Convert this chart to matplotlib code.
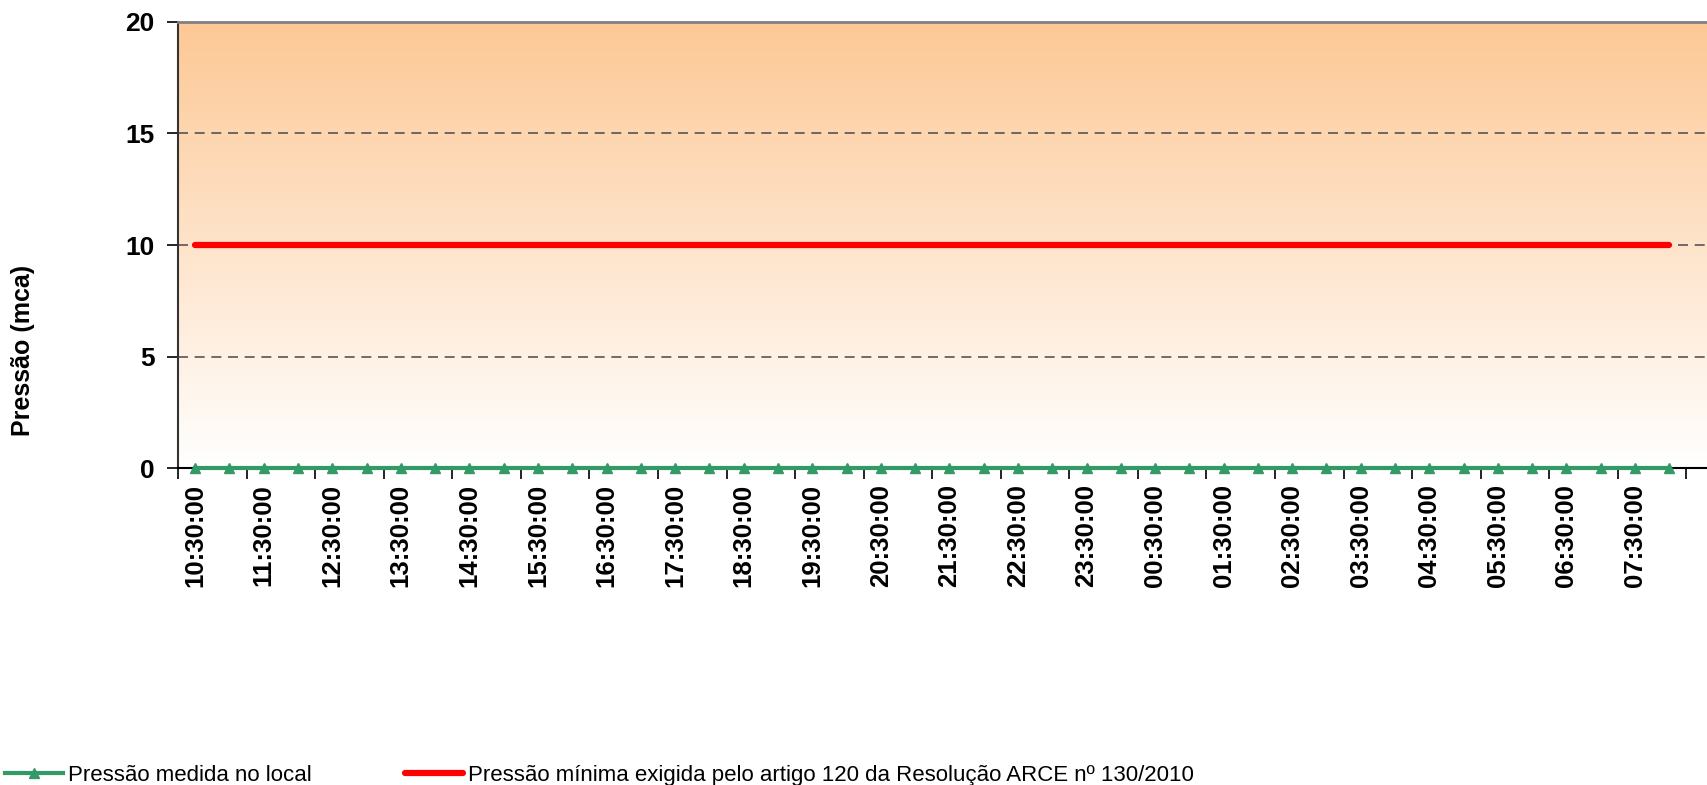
import matplotlib.pyplot as plt
import matplotlib.colors as mcolors
import numpy as np

horarios = ["10:30:00", "11:00:00", "11:30:00", "12:00:00", "12:30:00", "13:00:00",
            "13:30:00", "14:00:00", "14:30:00", "15:00:00", "15:30:00", "16:00:00",
            "16:30:00", "17:00:00", "17:30:00", "18:00:00", "18:30:00", "19:00:00",
            "19:30:00", "20:00:00", "20:30:00", "21:00:00", "21:30:00", "22:00:00",
            "22:30:00", "23:00:00", "23:30:00", "00:00:00", "00:30:00", "01:00:00",
            "01:30:00", "02:00:00", "02:30:00", "03:00:00", "03:30:00", "04:00:00",
            "04:30:00", "05:00:00", "05:30:00", "06:00:00", "06:30:00", "07:00:00",
            "07:30:00", "08:00:00"]
pressao_medida = [0, 0, 0, 0, 0, 0, 0, 0, 0, 0, 0, 0, 0, 0, 0, 0, 0, 0, 0, 0, 0, 0,
                  0, 0, 0, 0, 0, 0, 0, 0, 0, 0, 0, 0, 0, 0, 0, 0, 0, 0, 0, 0, 0, 0]
pressao_minima = [10, 10, 10, 10, 10, 10, 10, 10, 10, 10, 10, 10, 10, 10, 10, 10,
                  10, 10, 10, 10, 10, 10, 10, 10, 10, 10, 10, 10, 10, 10, 10, 10,
                  10, 10, 10, 10, 10, 10, 10, 10, 10, 10, 10, 10]
y_ticks = [0, 5, 10, 15, 20]

plt.rcParams['font.family'] = ['Liberation Sans', 'DejaVu Sans']

fig = plt.figure(figsize=(17.07, 7.85), dpi=100)
ax = fig.add_axes([0.1043, 0.4032, 1 - 0.1043, 0.9724 - 0.4032])

x = np.arange(len(horarios))
ax.set_xlim(-0.5, 44.1)
ax.set_ylim(0, 20)

# fundo em degrade laranja -> branco
cmap = mcolors.LinearSegmentedColormap.from_list("bg", ["#FFFFFF", "#FDC895"])
grad = np.linspace(0, 1, 256).reshape(-1, 1)
ax.imshow(grad, cmap=cmap, aspect="auto", origin="lower",
          extent=[0, 1, 0, 1], transform=ax.transAxes, zorder=0)

for v in y_ticks[1:-1]:
    ax.axhline(v, color="#555555", lw=1.2, ls=(0, (6, 4)), zorder=1)

ax.plot(x, pressao_minima, color="#FF0000", lw=4.5, solid_capstyle="round",
        zorder=3, label="Pressão mínima exigida pelo artigo 120 da Resolução ARCE nº 130/2010")
ax.plot(x, pressao_medida, color="#339966", lw=3, marker="^", ms=7.5,
        zorder=4, clip_on=False, label="Pressão medida no local")

ax.set_yticks(y_ticks)
ax.set_yticklabels([str(v) for v in y_ticks], fontsize=19, fontweight="bold")
ax.tick_params(axis="y", length=8, width=1.2, pad=9)

ax.set_xticks(np.arange(-0.5, 44.1, 2))
ax.set_xticklabels([])
ax.tick_params(axis="x", which="major", length=8, width=1.2, direction="out")
ax.set_xticks(x[::2], minor=True)
ax.set_xticklabels(horarios[::2], minor=True, rotation=90, fontsize=18.5,
                   fontweight="bold")
ax.tick_params(axis="x", which="minor", length=0, pad=11)

ax.spines["right"].set_visible(False)
ax.spines["top"].set_color("#808080")
ax.spines["top"].set_linewidth(2)
ax.spines["left"].set_color("#333333")
ax.spines["left"].set_linewidth(1.5)
ax.spines["bottom"].set_linewidth(1.5)

fig.text(0.0135, 0.553, "Pressão (mca)", rotation=90, fontsize=18,
         fontweight="bold", ha="center", va="center")

handles, labels = ax.get_legend_handles_labels()
fig.legend(handles[::-1], labels[::-1], loc="center left",
           bbox_to_anchor=(0.003, 0.0127), ncol=2, frameon=False, fontsize=16,
           borderpad=0, borderaxespad=0,
           handlelength=2.6, handletextpad=0.24, columnspacing=4.2)

fig.savefig("out.png", dpi=100)
